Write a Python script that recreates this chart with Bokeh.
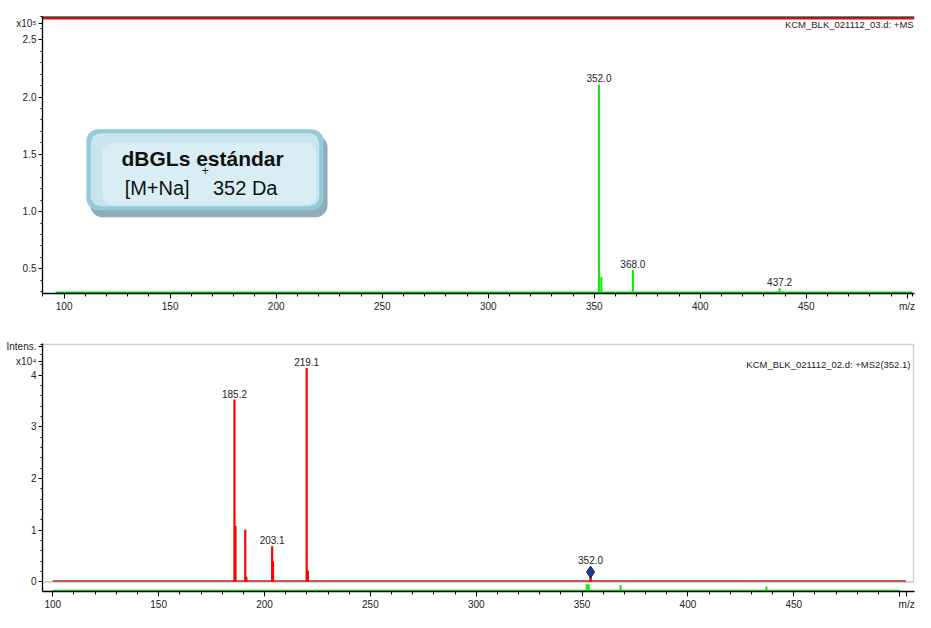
from bokeh.plotting import figure
from bokeh.models import (Range1d, FixedTicker, PrintfTickFormatter, BoxAnnotation,
                          Label, ColumnDataSource)
from bokeh.layouts import column
from bokeh.embed import file_html
from bokeh.resources import INLINE
from bokeh.core.properties import value

FONT = "Liberation Sans"
GREEN = "#00f000"
RED = "#ff0000"

# ---------------- data ----------------
# Top panel: MS spectrum, intensity in units of 1e5
ms1_mz = [352.2, 353.3, 368.2, 437.4]
ms1_int = [2.11, 0.43, 0.49, 0.33]
ms1_labels = ["352.0", "", "368.0", "437.2"]
ms1_baseline = 0.292
ms1_span = [96, 500]

# Bottom panel: MS2(352.1) spectrum, intensity in units of 1e4
ms2_mz = [185.8, 186.3, 190.9, 191.4, 203.6, 204.0, 219.9, 220.5]
ms2_int = [3.53, 1.08, 1.01, 0.10, 0.69, 0.40, 4.14, 0.22]
ms2_labels = ["185.2", "", "", "", "203.1", "", "219.1", ""]
ms2_span = [100, 503]
precursor_mz = [354.0]
precursor_int = [0.19]
precursor_label = ["352.0"]

# Small green MS trace under the MS2 panel
ov_mz = [352.2, 353.1, 368.2, 437.1]
ov_int = [0.13, 0.13, 0.12, 0.09]
ov_span = [100, 500]

x_major = [100, 150, 200, 250, 300, 350, 400, 450]
x_minor = list(range(90, 511, 10))
top_x_extra = {497.5: "m/z"}
bot_x_extra = {500: "", 503.3: "m/z"}
top_y_major = [0.5, 1.0, 1.5, 2.0, 2.5]
top_y_minor = [round(0.3 + 0.1 * i, 1) for i in range(25)]
top_y_scale_label = {2.64: "x10⁵"}
bot_y_major = [0, 1, 2, 3, 4]
bot_y_minor = [round(-0.2 + 0.2 * i, 1) for i in range(25)]
bot_y_scale_label = {4.26: "x10⁴", 4.56: "Intens."}


def style_axes(p, x_extra):
    for ax in p.axis:
        ax.axis_line_color = "#000000"
        ax.axis_line_width = 1.3
        ax.major_tick_line_color = "#000000"
        ax.minor_tick_line_color = "#000000"
        ax.major_tick_in = 0
        ax.minor_tick_in = 0
        ax.major_label_text_font = FONT
        ax.major_label_text_font_size = "10px"
        ax.major_label_text_color = "#222222"
        ax.major_label_standoff = 2
    for ax in p.xaxis:
        ax.major_tick_out = 5
        ax.minor_tick_out = 3
        ax.ticker = FixedTicker(ticks=x_major + list(x_extra), minor_ticks=x_minor)
        ax.major_label_overrides = x_extra
    for ax in p.yaxis:
        ax.major_tick_out = 4
        ax.minor_tick_out = 2


def txt(p, x, y, s, size="10px", align="left", baseline="middle", style="normal", color="#222222"):
    p.add_layout(Label(x=x, y=y, text=s, text_font=FONT, text_font_size=size,
                       text_align=align, text_baseline=baseline, text_font_style=style,
                       text_color=color))


# ---------------- top panel ----------------
X1_END = 501.0
p1 = figure(width=915, height=318, output_backend="svg", toolbar_location=None,
            x_range=Range1d(89.8, X1_END), y_range=Range1d(0.285, 2.703),
            min_border_left=40, min_border_right=0, min_border_top=16, min_border_bottom=25)
p1.grid.visible = False
p1.outline_line_color = None
style_axes(p1, top_x_extra)
p1.yaxis.ticker = FixedTicker(ticks=top_y_major + list(top_y_scale_label), minor_ticks=top_y_minor)
p1.yaxis.formatter = PrintfTickFormatter(format="%.1f")
p1.yaxis.major_label_overrides = top_y_scale_label

# top border (bottom of the panel above)
p1.line(x=[89.8, X1_END], y=[2.700, 2.700], line_color="#000000", line_width=2)
p1.line(x=[89.8, X1_END], y=[2.684, 2.684], line_color=RED, line_width=1.5)

# green spectrum
p1.line(x=ms1_span, y=[ms1_baseline, ms1_baseline], line_color=GREEN, line_width=2.5)
p1.segment(x0=ms1_mz, y0=[ms1_baseline] * len(ms1_mz), x1=ms1_mz, y1=ms1_int,
           line_color=GREEN, line_width=2)
lab1 = [(m, v, t) for m, v, t in zip(ms1_mz, ms1_int, ms1_labels) if t]
src1 = ColumnDataSource(dict(x=[a[0] for a in lab1], y=[a[1] + 0.017 for a in lab1],
                             t=[a[2] for a in lab1]))
p1.text(x="x", y="y", text="t", source=src1, text_font=value(FONT), text_font_size="10px",
        text_align="center", text_baseline="bottom", text_color="#222222")

# annotation box
p1.add_layout(BoxAnnotation(left=112.4, right=224.2, top=1.666, bottom=0.951,
                            fill_color="#8fadb9", fill_alpha=1, line_color=None, border_radius=12))
p1.add_layout(BoxAnnotation(left=110.5, right=222.3, top=1.718, bottom=1.012,
                            fill_color="#93cad9", fill_alpha=1, line_color=None, border_radius=12))
p1.add_layout(BoxAnnotation(left=112.5, right=220.3, top=1.683, bottom=1.047,
                            fill_color="#c6e5ee", fill_alpha=1, line_color=None, border_radius=10))
p1.add_layout(BoxAnnotation(left=118.0, right=219.0, top=1.600, bottom=1.060,
                            fill_color="#dcf0f5", fill_alpha=0.8, line_color=None, border_radius=10))
txt(p1, 165.3, 1.465, "dBGLs estándar", size="21px", align="center", baseline="middle",
    style="bold", color="#111111")
txt(p1, 159.2, 1.210, "[M+Na]", size="20px", align="right", baseline="middle", color="#111111")
txt(p1, 166.6, 1.361, "+", size="12px", align="center", baseline="middle", color="#111111")
txt(p1, 170.2, 1.210, "352 Da", size="20px", align="left", baseline="middle", color="#111111")

txt(p1, 500.6, 2.633, "KCM_BLK_021112_03.d: +MS", size="9.5px", align="right")

# ---------------- bottom panel ----------------
X2_START = 95.13
X2_END = 507.0
p2 = figure(width=915, height=294, output_backend="svg", toolbar_location=None,
            x_range=Range1d(X2_START, X2_END), y_range=Range1d(-0.186, 4.614),
            min_border_left=42, min_border_right=1, min_border_top=25, min_border_bottom=18)
p2.grid.visible = False
p2.outline_line_color = None
style_axes(p2, bot_x_extra)
p2.yaxis.ticker = FixedTicker(ticks=bot_y_major + list(bot_y_scale_label), minor_ticks=bot_y_minor)
p2.yaxis.major_label_overrides = bot_y_scale_label

p2.add_layout(BoxAnnotation(left=X2_START, right=506.6, bottom=0.0, top=4.60,
                            fill_alpha=0, line_color="#5a5a5a", line_width=1.6))
p2.line(x=ms2_span, y=[0.018, 0.018], line_color="#cc2222", line_width=1.5)
p2.segment(x0=ms2_mz, y0=[0] * len(ms2_mz), x1=ms2_mz, y1=ms2_int,
           line_color=RED, line_width=2.2)
p2.segment(x0=precursor_mz, y0=[0], x1=precursor_mz, y1=precursor_int,
           line_color=RED, line_width=2.5)
p2.scatter(x=precursor_mz, y=precursor_int, marker="diamond", size=12,
           fill_color="#1d3c9c", line_color="#0b1f66", line_width=1)

lab2 = [(m, v, t) for m, v, t in zip(ms2_mz, ms2_int, ms2_labels) if t]
lab2 += [(m, v + 0.12, t) for m, v, t in zip(precursor_mz, precursor_int, precursor_label)]
src2 = ColumnDataSource(dict(x=[a[0] for a in lab2], y=[a[1] + 0.037 for a in lab2],
                             t=[a[2] for a in lab2]))
p2.text(x="x", y="y", text="t", source=src2, text_font=value(FONT), text_font_size="10px",
        text_align="center", text_baseline="bottom", text_color="#222222")

# green trace at the bottom axis
ov_base = -0.178
p2.line(x=ov_span, y=[ov_base, ov_base], line_color=GREEN, line_width=2.5)
p2.segment(x0=ov_mz, y0=[ov_base] * len(ov_mz), x1=ov_mz, y1=[ov_base + h for h in ov_int],
           line_color=GREEN, line_width=2)

txt(p2, 505.1, 4.205, "KCM_BLK_021112_02.d: +MS2(352.1)", size="9.5px", align="right")

layout = column(p1, p2, spacing=0)
open("out.html", "w").write(file_html(layout, INLINE))
